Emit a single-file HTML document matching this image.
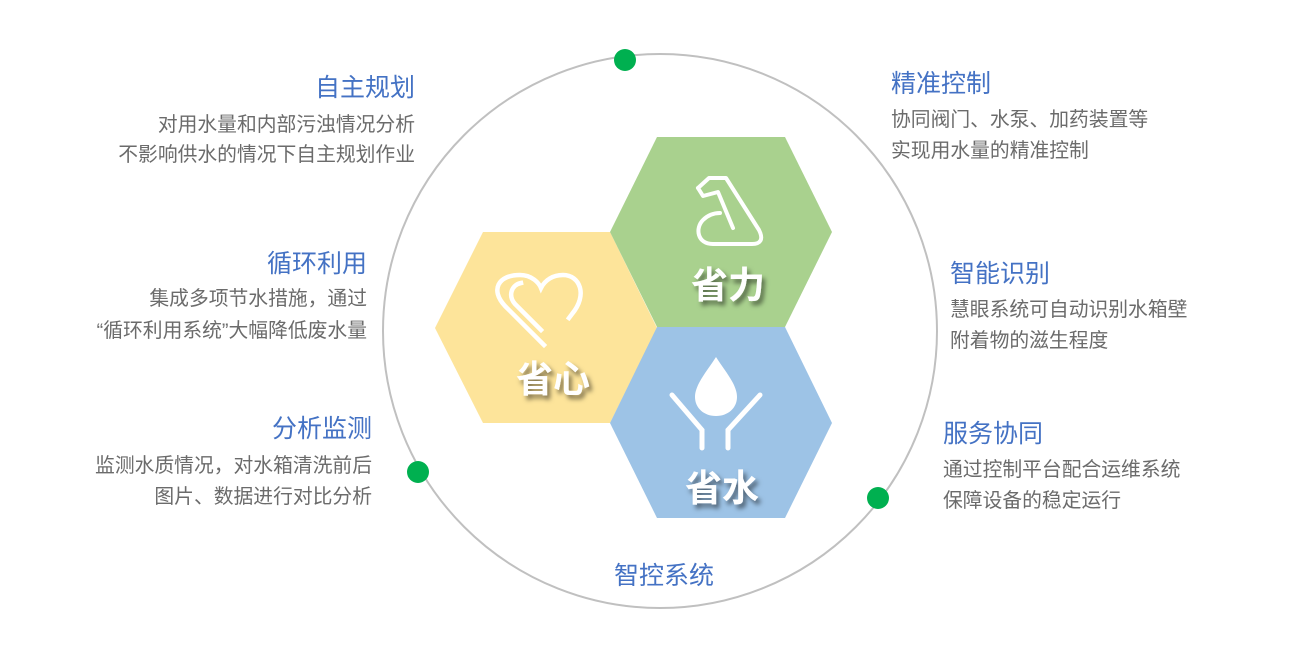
<!DOCTYPE html>
<html><head><meta charset="utf-8"><style>
html,body{margin:0;padding:0;background:#fff;}
body{width:1291px;height:650px;overflow:hidden;}
svg{display:block;font-family:"Liberation Sans","Noto Sans CJK SC",sans-serif;}
.t{fill:#4472C4;font-size:25px;}
.d{fill:#6b6b6b;font-size:19.8px;}
.h{fill:#fff;font-size:37px;font-weight:bold;}
</style></head><body>
<svg width="1291" height="650" viewBox="0 0 1291 650">
<defs>
<filter id="sh" x="-20%" y="-20%" width="150%" height="150%"><feDropShadow dx="3" dy="4" stdDeviation="2.5" flood-color="#000" flood-opacity="0.5"/></filter>
</defs>
<circle cx="660" cy="331" r="277" fill="none" stroke="#c0c0c0" stroke-width="2"/>
<circle cx="625" cy="60" r="11" fill="#00B050"/>
<circle cx="418" cy="472" r="11" fill="#00B050"/>
<circle cx="878" cy="498" r="11" fill="#00B050"/>

<polygon points="483,232 610,232 657,328 610,423 483,423 435,328" fill="#FDE49A"/>
<polygon points="657,137 785,137 832,232 785,327 657,327 610,232" fill="#A9D18E"/>
<polygon points="657,327 785,327 832,423 785,518 657,518 610,423" fill="#9DC3E6"/>

<g fill="none" stroke="#fff" stroke-width="4.5" stroke-linecap="square">
<path d="M544,345 L505,306 C490,290 498,275 520,275 C532,275 539,283 541,288 C545,280 553,275 563,275 C580,275 588,295 572,314 L569,318"/>
<path d="M541,330 L515,304 C508,296 511,285 521,283"/>
</g>
<g fill="none" stroke="#fff" stroke-width="4" stroke-linejoin="round" stroke-linecap="round">
<path d="M698,188 L709,178 L726,178 L759,230 C764,240 760,244 752,244 L713,244 C697,244 695,228 703,220 C709,214 716,213 720,213"/>
<path d="M698,188 L703,196 L718,192 L733,228"/>
</g>
<path d="M716,357 C724,370 737,384 737,397 C737,408 728,416 716,416 C704,416 695,408 695,397 C695,384 708,370 716,357 Z" fill="#fff"/>
<g fill="none" stroke="#fff" stroke-width="5" stroke-linecap="round">
<path d="M672,395 L702,430 L702,448"/>
<path d="M760,395 L728,430 L728,448"/>
</g>

<text class="h" x="728" y="298" text-anchor="middle" filter="url(#sh)">省力</text>
<text class="h" x="553" y="392" text-anchor="middle" filter="url(#sh)">省心</text>
<text class="h" x="722" y="501" text-anchor="middle" filter="url(#sh)">省水</text>

<text class="t" x="415" y="96" text-anchor="end">自主规划</text>
<text class="d" x="415" y="131" text-anchor="end">对用水量和内部污浊情况分析</text>
<text class="d" x="415" y="161" text-anchor="end">不影响供水的情况下自主规划作业</text>

<text class="t" x="367" y="272" text-anchor="end">循环利用</text>
<text class="d" x="367" y="305" text-anchor="end">集成多项节水措施，通过</text>
<text class="d" x="367" y="337" text-anchor="end">“循环利用系统”大幅降低废水量</text>

<text class="t" x="372" y="437" text-anchor="end">分析监测</text>
<text class="d" x="372" y="472" text-anchor="end">监测水质情况，对水箱清洗前后</text>
<text class="d" x="372" y="503" text-anchor="end">图片、数据进行对比分析</text>

<text class="t" x="891" y="92">精准控制</text>
<text class="d" x="891" y="126">协同阀门、水泵、加药装置等</text>
<text class="d" x="891" y="157">实现用水量的精准控制</text>

<text class="t" x="950" y="282">智能识别</text>
<text class="d" x="950" y="316">慧眼系统可自动识别水箱壁</text>
<text class="d" x="950" y="347">附着物的滋生程度</text>

<text class="t" x="943" y="442">服务协同</text>
<text class="d" x="943" y="476">通过控制平台配合运维系统</text>
<text class="d" x="943" y="507">保障设备的稳定运行</text>

<text class="t" x="664" y="584" text-anchor="middle">智控系统</text>
</svg>
</body></html>
